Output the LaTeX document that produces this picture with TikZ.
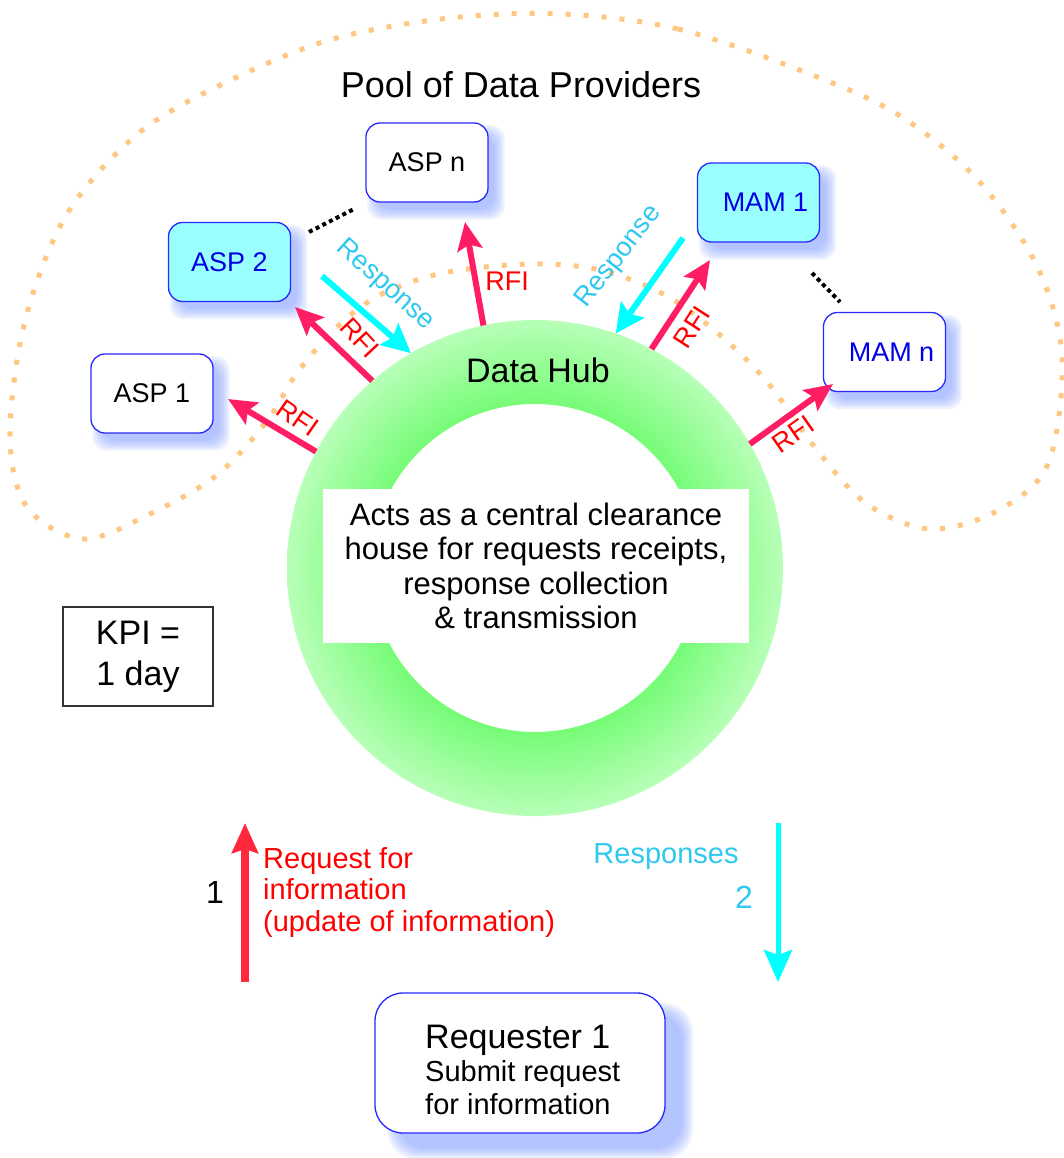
\documentclass[tikz,border=0pt]{standalone}
\usepackage{fontspec}
\setmainfont{Liberation Sans}
\usetikzlibrary{arrows.meta}

\definecolor{rfi}{RGB}{255,30,100}
\definecolor{rfitext}{RGB}{255,0,0}
\definecolor{resp}{RGB}{0,255,255}
\definecolor{resptext}{RGB}{48,200,240}
\definecolor{boxline}{RGB}{40,40,255}
\definecolor{boxcyan}{RGB}{153,255,255}
\definecolor{boxtext}{RGB}{0,0,230}
\definecolor{shadowc}{RGB}{120,150,255}
\definecolor{pool}{RGB}{255,200,130}
\definecolor{hubin}{RGB}{118,252,118}
\definecolor{hubout}{RGB}{184,255,184}
\definecolor{reqred}{RGB}{255,40,60}

% green ring: bright on the inner edge, paler towards the outside
\pgfdeclareradialshading{hubring}{\pgfpoint{0bp}{0bp}}{%
  color(0bp)=(hubin); color(16.5bp)=(hubin); color(25bp)=(hubout); color(50bp)=(hubout)}

\pgfdeclarelayer{shadowlayer}
\pgfsetlayers{shadowlayer,main}

% soft drop shadow behind a node: #1 node, #2/#3 offset, #4 corner radius
\newcommand\dropshadow[4]{%
  \foreach \e in {7,5,3,1,-1,-3}{%
    \pgfmathsetmacro\shxa{#2-(\e)}%
    \pgfmathsetmacro\shya{#3-(\e)}%
    \pgfmathsetmacro\shxb{#2+(\e)}%
    \pgfmathsetmacro\shyb{#3+(\e)}%
    \fill[shadowc, opacity=0.12, rounded corners=#4]
      ([shift={(\shxa,\shya)}]#1.north west) rectangle
      ([shift={(\shxb,\shyb)}]#1.south east);
  }}

\tikzset{
  provider/.style={rectangle, rounded corners=14pt, draw=boxline, line width=1.3pt,
    fill=white, minimum width=122pt, minimum height=79pt, inner sep=0pt,
    font=\fontsize{27}{30}\selectfont},
  rfiarrow/.style={draw=rfi, line width=6pt,
    -{Stealth[length=28pt, width=25pt, inset=5pt]}},
  resparrow/.style={draw=resp, line width=6pt,
    -{Stealth[length=29pt, width=28pt, inset=5pt]}},
  rfilabel/.style={text=rfitext, font=\fontsize{27}{30}\selectfont, inner sep=0pt},
  resplabel/.style={text=resptext, font=\fontsize{27}{30}\selectfont, inner sep=0pt},
  ellipsisline/.style={draw=black, line width=4pt, dash pattern=on 4pt off 3.5pt},
  poolline/.style={draw=pool, line width=5pt, dash pattern=on 5pt off 13pt}
}

\begin{document}
\begin{tikzpicture}[x=1pt, y=-1pt]
\useasboundingbox (0,0) rectangle (1063,1158);
\begin{pgfonlayer}{shadowlayer}
  \fill[white] (0,0) rectangle (1063,1158);
\end{pgfonlayer}

% dotted outline of the provider pool
\draw[poolline] plot[smooth cycle, tension=0.55] coordinates {
  (563,14) (678,29) (802,71) (897,114) (977,179) (1037,266) (1062,357)
  (1048,464) (997,511) (930,529) (867,504) (817,450) (768,383) (720,335)
  (665,295) (600,270) (530,264) (443,273) (380,295) (337,327) (297,373)
  (267,421) (217,475) (150,514) (83,539) (27,507) (10,436) (25,321)
  (67,214) (140,132) (233,79) (333,39) (450,18)};

\node[font=\fontsize{36}{40}\selectfont] (pooltitle) at (521,85) {Pool of Data Providers};

% data hub ring
\node[circle, minimum size=496pt, inner sep=0pt, outer sep=0pt] (hub) at (535,568) {};
\shade[shading=hubring, even odd rule]
  (hub.center) circle[radius=248pt] (hub.center) circle[radius=164pt];
\node[font=\fontsize{34}{36}\selectfont] (hubtitle) at (538,370) {Data Hub};
\node[fill=white, minimum width=426pt, minimum height=154pt, inner sep=0pt,
      align=center, font=\fontsize{31}{34.5}\selectfont] (desc) at (536,566)
  {Acts as a central clearance\\house for requests receipts,\\response collection\\\& transmission};

% data providers
\node[provider] (aspn) at (427,162.5) {ASP n};
\node[provider, fill=boxcyan, text=boxtext] (asp2) at (229.5,262) {ASP 2};
\node[provider] (asp1) at (152,393.5) {ASP 1};
\node[provider, fill=boxcyan, text=boxtext] (mam1) at (758.5,202.5) {\hspace{14pt}MAM 1};
\node[provider, text=boxtext] (mamn) at (884.5,352) {\hspace{14pt}MAM n};

% "more providers" ellipses
\coordinate (ea) at (309,232);
\coordinate (eb) at (354,209);
\coordinate (ec) at (812,273);
\coordinate (ed) at (840,302);
\draw[ellipsisline] (ea) -- (eb);
\draw[ellipsisline] (ec) -- (ed);

% requests for information sent out by the hub
\coordinate (tA1) at (228,399);
\coordinate (tA2) at (295,307);
\coordinate (tAn) at (465,222);
\coordinate (tM1) at (710,260);
\coordinate (tMn) at (833,384);
\draw[rfiarrow] (hub.152) -- (tA1);
\draw[rfiarrow] (hub.131.6) -- (tA2);
\draw[rfiarrow] (hub.102.2) -- (tAn);
\draw[rfiarrow] (hub.62.1) -- (tM1);
\draw[rfiarrow] (hub.30.5) -- (tMn);

\node[rfilabel, rotate=-35] (lA1) at (298,418) {RFI};
\node[rfilabel, rotate=-47] (lA2) at (360,338) {RFI};
\node[rfilabel] (lAn) at (507,281) {RFI};
\node[rfilabel, rotate=57] (lM1) at (692,327) {RFI};
\node[rfilabel, rotate=35] (lMn) at (793,434) {RFI};

% responses coming back to the hub
\coordinate (sA2) at (322,276);
\coordinate (sM1) at (683,238);
\draw[resparrow] (sA2) -- (hub.120.4);
\draw[resparrow] (sM1) -- (hub.71.4);
\node[resplabel, rotate=-42] (rlA2) at (385,285) {Response};
\node[resplabel, rotate=52] (rlM1) at (619,257) {Response};

% KPI
\node[draw=black!80, line width=1.2pt, minimum width=150pt, minimum height=99pt,
      inner sep=0pt, align=center, font=\fontsize{34}{41}\selectfont] (kpi)
  at (138,656.5) {KPI =\\1 day};

% requester and its exchange with the hub
\coordinate (upfrom) at (245,982);
\coordinate (upto) at (245,823);
\coordinate (downfrom) at (778,823);
\coordinate (downto) at (778,982);
\draw[draw=reqred, line width=8pt, -{Stealth[length=30pt, width=26pt, inset=4pt]}] (upfrom) -- (upto);
\draw[draw=resp, line width=5pt, -{Stealth[length=32pt, width=28pt, inset=5pt]}] (downfrom) -- (downto);

\node[font=\fontsize{32}{34}\selectfont] (stepone) at (215,892) {1};
\node[anchor=north west, align=left, text=rfitext, inner sep=0pt,
      font=\fontsize{29}{31.5}\selectfont] (reqlabel) at (263,847)
  {Request for\\information\\(update of information)};
\node[text=resptext, font=\fontsize{29}{32}\selectfont] (resplabelb) at (666,857) {Responses};
\node[text=resptext, font=\fontsize{32}{34}\selectfont] (steptwo) at (744,897) {2};

\node[rectangle, rounded corners=28pt, draw=boxline, line width=1.3pt, fill=white,
      minimum width=290pt, minimum height=140pt] (req) at (520,1063) {};
\node[anchor=north west, align=left, inner sep=0pt, font=\fontsize{29}{33}\selectfont] (reqtext)
  at (425,1025) {{\fontsize{34}{36}\selectfont Requester 1}\\Submit request\\for information};

% soft blue shadows under the boxes
\begin{pgfonlayer}{shadowlayer}
  \dropshadow{aspn}{9}{10}{14pt}
  \dropshadow{asp2}{9}{10}{14pt}
  \dropshadow{asp1}{9}{10}{14pt}
  \dropshadow{mam1}{9}{10}{14pt}
  \dropshadow{mamn}{9}{10}{14pt}
  \dropshadow{req}{20}{18}{28pt}
\end{pgfonlayer}
\end{tikzpicture}
\end{document}
